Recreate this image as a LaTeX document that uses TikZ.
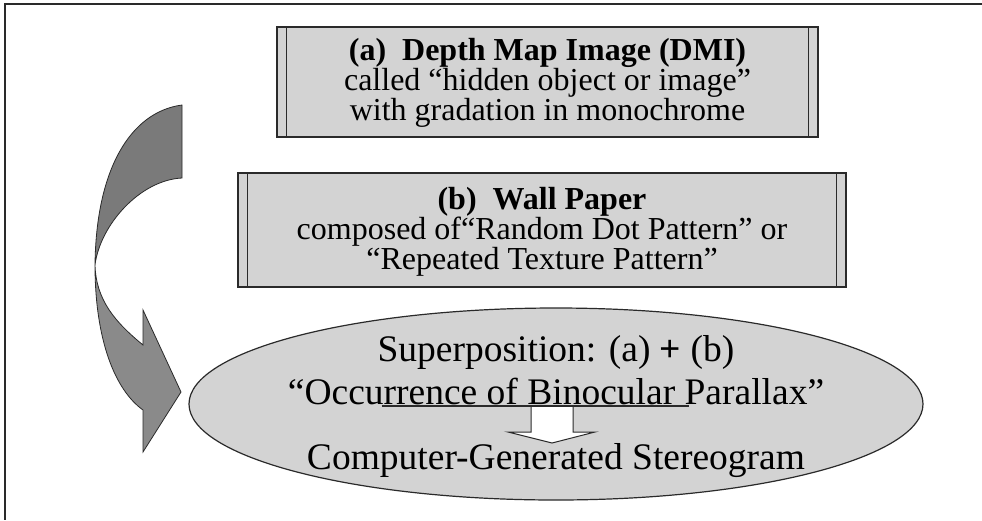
\documentclass[tikz,border=0pt]{standalone}
\usepackage{fontspec}
\setmainfont{Liberation Serif}
\usetikzlibrary{shapes.geometric,calc}
\definecolor{boxgray}{HTML}{D3D3D3}
\definecolor{arrowdark}{HTML}{7A7A7A}
\definecolor{arrowlight}{HTML}{8A8A8A}
\definecolor{edge}{HTML}{2A2A2A}
\begin{document}
\begin{tikzpicture}[x=1pt,y=-1pt,
  procbox/.style={draw=edge, line width=1.2pt, fill=boxgray, rectangle, inner sep=0pt},
  sideline/.style={draw=edge, line width=1pt},
  boxtexta/.style={font=\fontsize{32}{30}\selectfont, align=center, inner sep=0pt},
  boxtextb/.style={font=\fontsize{32}{28}\selectfont, align=center, inner sep=0pt},
  elltext/.style={font=\fontsize{37.5}{40}\selectfont, inner sep=0pt},
  curvearrow/.style={draw=edge, line width=0.8pt}]
\useasboundingbox (0,0) rectangle (982,520);
\fill[white] (0,0) rectangle (982,520);
% frame
\coordinate (ftl) at (5,4);
\coordinate (ftr) at (982,4);
\coordinate (fbl) at (5,520);
\draw[edge, line width=1.5pt] (ftr) -- (ftl) -- (fbl);
% box a
\node[procbox, minimum width=541pt, minimum height=110pt] (boxa) at (547.5,82) {};
\draw[sideline] ([xshift=10pt]boxa.north west) -- ([xshift=10pt]boxa.south west);
\draw[sideline] ([xshift=-10pt]boxa.north east) -- ([xshift=-10pt]boxa.south east);
\node[boxtexta] (ta) at (547.5,83) {\textbf{(a)\ \ Depth Map Image (DMI)}\\called “hidden object or image”\\with gradation in monochrome};
% box b
\node[procbox, minimum width=608pt, minimum height=114pt] (boxb) at (542,230) {};
\draw[sideline] ([xshift=10pt]boxb.north west) -- ([xshift=10pt]boxb.south west);
\draw[sideline] ([xshift=-10pt]boxb.north east) -- ([xshift=-10pt]boxb.south east);
\node[boxtextb] (tb) at (542,232) {\textbf{(b)\ \ Wall Paper}\\composed of“Random Dot Pattern” or\\“Repeated Texture Pattern”};
% ellipse
\node[ellipse, draw=edge, line width=1.2pt, fill=boxgray, minimum width=734pt, minimum height=192pt, inner sep=0pt] (ell) at (556,404) {};
\node[elltext] (sup) at (556,352) {Superposition: (a) \textbf{+} (b)};
\node[elltext] (occ) at (556,391) {“Occurrence of Binocular Parallax”};
\node[elltext] (cgs) at (556,461) {Computer-Generated Stereogram};
% block arrow
\coordinate (arrc) at (552,406);
\draw[edge, fill=white, line width=1pt] ($(arrc)+(-21,0)$) -- ($(arrc)+(-21,26)$) -- ($(arrc)+(-44,26)$) -- ($(arrc)+(0,37)$) -- ($(arrc)+(43,26)$) -- ($(arrc)+(21,26)$) -- ($(arrc)+(21,0)$);
% underline
\coordinate (ulY) at (0,406);
\coordinate (u1x) at ($(occ.west)!0.175!(occ.east)$);
\coordinate (u2x) at ($(occ.west)!0.748!(occ.east)$);
\coordinate (ulA) at (u1x |- ulY);
\coordinate (ulB) at (u2x |- ulY);
\draw[edge, line width=1.2pt] (ulA) -- (ulB);
% curved arrow
\filldraw[curvearrow, fill=arrowdark] (182,105) .. controls (130,112) and (96,170) .. (95,265) .. controls (100,225) and (140,180) .. (182,178) -- cycle;
\filldraw[curvearrow, fill=arrowlight] (95,265) .. controls (95,340) and (115,390) .. (143,410) -- (143,452) -- (181,392) -- (143,310) -- (143,345) .. controls (115,322) and (96,300) .. (95,265) -- cycle;
\end{tikzpicture}
\end{document}
